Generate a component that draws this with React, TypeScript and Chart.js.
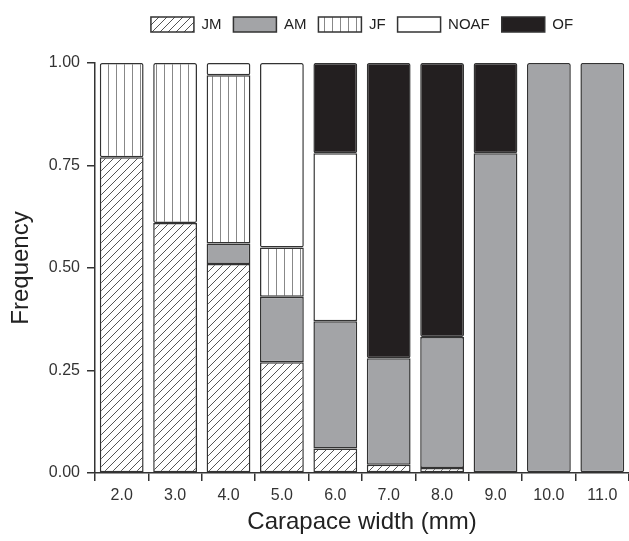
import React, { useEffect, useRef } from "react";
import { Chart, registerables } from "chart.js";

Chart.register(...registerables);

const categories = ["2.0", "3.0", "4.0", "5.0", "6.0", "7.0", "8.0", "9.0", "10.0", "11.0"];
const jmValues = [0.77, 0.61, 0.51, 0.27, 0.06, 0.02, 0.012, null, null, null];
const amValues = [null, null, 0.05, 0.16, 0.31, 0.26, 0.32, 0.78, 1.0, 1.0];
const jfValues = [0.23, 0.39, 0.41, 0.12, null, null, null, null, null, null];
const noafValues = [null, null, 0.03, 0.45, 0.41, null, null, null, null, null];
const ofValues = [null, null, null, null, 0.22, 0.72, 0.668, 0.22, null, null];
const yTicks = [0, 0.25, 0.5, 0.75, 1.0];

const FONT = "'Liberation Sans', Arial, Helvetica, sans-serif";
const EDGE = "#333333";

function diagPattern(): CanvasPattern | string {
  const c = document.createElement("canvas");
  c.width = 8;
  c.height = 8;
  const g = c.getContext("2d");
  if (!g) return "#fff";
  g.fillStyle = "#ffffff";
  g.fillRect(0, 0, 8, 8);
  g.strokeStyle = "#555555";
  g.lineWidth = 1;
  g.beginPath();
  g.moveTo(0, 8);
  g.lineTo(8, 0);
  g.moveTo(-2, 2);
  g.lineTo(2, -2);
  g.moveTo(6, 10);
  g.lineTo(10, 6);
  g.stroke();
  return g.createPattern(c, "repeat") || "#fff";
}

function vertPattern(): CanvasPattern | string {
  const c = document.createElement("canvas");
  c.width = 8;
  c.height = 4;
  const g = c.getContext("2d");
  if (!g) return "#fff";
  g.fillStyle = "#ffffff";
  g.fillRect(0, 0, 8, 4);
  g.fillStyle = "#888888";
  g.fillRect(4, 0, 1, 4);
  return g.createPattern(c, "repeat") || "#fff";
}

const legendHeightPlugin = {
  id: "legendHeight",
  beforeLayout(chart: any) {
    const lg = chart.legend;
    if (lg && !lg.__wrapped) {
      const orig = lg.fit.bind(lg);
      lg.fit = function () {
        orig();
        this.height = 58;
      };
      lg.__wrapped = true;
    }
  },
};

export default function App() {
  const ref = useRef<HTMLCanvasElement | null>(null);

  useEffect(() => {
    if (!ref.current) return;
    const common = {
      borderColor: EDGE,
      borderWidth: 1.5,
      borderSkipped: false as const,
      borderRadius: 2,
      barPercentage: 0.82,
      categoryPercentage: 1.0,
    };
    const chart = new Chart(ref.current, {
      type: "bar",
      data: {
        labels: categories,
        datasets: [
          { label: "JM", data: jmValues, backgroundColor: diagPattern(), ...common },
          { label: "AM", data: amValues, backgroundColor: "#a3a4a7", ...common },
          { label: "JF", data: jfValues, backgroundColor: vertPattern(), ...common },
          { label: "NOAF", data: noafValues, backgroundColor: "#ffffff", ...common },
          { label: "OF", data: ofValues, backgroundColor: "#231f20", ...common },
        ],
      },
      plugins: [legendHeightPlugin],
      options: {
        responsive: false,
        animation: false,
        layout: { padding: { left: 0, right: 0, top: 5, bottom: 0 } },
        plugins: {
          tooltip: { enabled: false },
          legend: {
            position: "top",
            fullSize: false,
            labels: {
              boxWidth: 43,
              boxHeight: 15,
              padding: 12,
              color: "#222",
              font: { family: FONT, size: 15 },
            },
          },
        },
        scales: {
          x: {
            stacked: true,
            offset: true,
            grid: {
              display: true,
              drawOnChartArea: false,
              drawTicks: true,
              tickLength: 8,
              color: EDGE,
              lineWidth: 1.5,
            },
            border: { display: true, color: EDGE, width: 1.5 },
            ticks: {
              color: "#333",
              padding: 5,
              font: { family: FONT, size: 16 },
              maxRotation: 0,
            },
            title: {
              display: true,
              text: "Carapace width (mm)",
              color: "#222",
              font: { family: FONT, size: 24 },
              padding: { top: 0, bottom: 4 },
            },
            afterFit: (s: any) => {
              s.height = 68;
            },
          },
          y: {
            stacked: true,
            min: 0,
            max: 1,
            afterBuildTicks: (s: any) => {
              s.ticks = yTicks.map((v) => ({ value: v }));
            },
            grid: {
              display: true,
              drawOnChartArea: false,
              drawTicks: true,
              tickLength: 8,
              color: EDGE,
              lineWidth: 1.5,
            },
            border: { display: true, color: EDGE, width: 1.5 },
            ticks: {
              color: "#333",
              padding: 7,
              font: { family: FONT, size: 16 },
              callback: (v: any) => Number(v).toFixed(2),
            },
            title: {
              display: true,
              text: "Frequency",
              color: "#222",
              font: { family: FONT, size: 24 },
              padding: { top: 7, bottom: 0 },
            },
            afterFit: (s: any) => {
              s.width = 95;
            },
          },
        },
      },
    });
    return () => chart.destroy();
  }, []);

  return (
    <div style={{ position: "fixed", left: 0, top: 0, width: 629, height: 541, background: "#fff" }}>
      <canvas ref={ref} width={629} height={541} style={{ display: "block" }} />
    </div>
  );
}
